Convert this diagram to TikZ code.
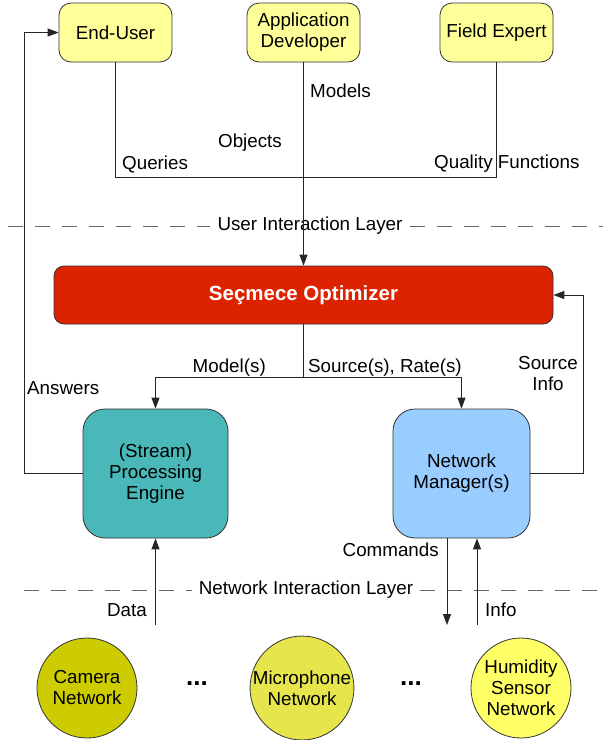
\documentclass[tikz,border=0pt]{standalone}
\usepackage{fontspec}
\setmainfont{Liberation Sans}
\usetikzlibrary{arrows.meta}
\definecolor{topfill}{HTML}{FFFF99}
\definecolor{optfill}{HTML}{DD2200}
\definecolor{engfill}{HTML}{4AB8B8}
\definecolor{nmfill}{HTML}{99CCFF}
\definecolor{camfill}{HTML}{CCCC00}
\definecolor{micfill}{HTML}{E6E64C}
\definecolor{humfill}{HTML}{FFFF66}
\definecolor{edge}{HTML}{333333}
\begin{document}
\begin{tikzpicture}[x=1pt,y=-1pt,
  txt/.style={font=\fontsize{18.8}{21}\selectfont, inner sep=0pt, text=black},
  topbox/.style={draw=edge, line width=0.8pt, fill=topfill, rounded corners=12pt, minimum width=113pt, minimum height=59pt, align=center, txt},
  bigbox/.style={draw=edge, line width=0.8pt, rounded corners=22pt, minimum height=129pt, align=center, txt},
  net/.style={draw=edge, line width=0.8pt, circle, minimum size=100pt, align=center, txt},
  conn/.style={draw=black!85, line width=0.9pt},
  arr/.style={conn, -{Triangle[length=11pt,width=8pt]}},
  layer/.style={draw=black!60, line width=0.9pt, dash pattern=on 15pt off 12pt},
  lbl/.style={txt}
]
\useasboundingbox (0,0) rectangle (603,740);
\fill[white] (0,0) rectangle (603,740);

% layer labels and dashed layers
\node[txt, inner xsep=7pt, inner ysep=2pt] (ult) at (310,226) {User Interaction Layer};
\node[txt, inner xsep=7pt, inner ysep=2pt] (nlt) at (306,590) {Network Interaction Layer};
\coordinate (ul0) at (8,226);
\coordinate (ul1) at (603,226);
\coordinate (nl0) at (24,590);
\coordinate (nl1) at (603,590);
\draw[layer] (ul0) -- (ult.west);
\draw[layer] (ult.east) -- (ul1);
\draw[layer] (nl0) -- (nlt.west);
\draw[layer] (nlt.east) -- (nl1);

% top boxes
\node[topbox] (eu) at (115.5,32.5) {End-User};
\node[topbox] (ad) at (303.5,32.5) {Application\\Developer};
\node[topbox] (fe) at (496.5,32.5) {Field Expert};

% optimizer
\node[draw=edge, line width=0.8pt, fill=optfill, rounded corners=10pt, minimum width=499pt, minimum height=58pt, inner sep=0pt,
      font=\fontsize{20.5}{23}\selectfont\bfseries, text=white] (opt) at (303.5,295) {Seçmece Optimizer};

% engines
\node[bigbox, fill=engfill, minimum width=145pt] (pe) at (155.5,473.5) {(Stream)\\Processing\\Engine};
\node[bigbox, fill=nmfill, minimum width=137pt] (nm) at (461.5,473.5) {Network\\Manager(s)};

% networks
\node[net, fill=camfill] (cam) at (87,688) {Camera\\Network};
\node[net, fill=micfill] (mic) at (302,688) {Microphone\\Network};
\node[net, fill=humfill] (hum) at (521,688) {Humidity\\Sensor\\Network};
\node[txt, font=\fontsize{26}{26}\selectfont\bfseries] (d1) at (197,684) {...};
\node[txt, font=\fontsize{26}{26}\selectfont\bfseries] (d2) at (411,684) {...};

% top connectors
\coordinate (qline) at (0,177);
\draw[conn] (eu.south) -- (eu.south |- qline) -- (fe.south |- qline) -- (fe.south);
\draw[arr] (ad.south) -- (opt.north);
\node[lbl, anchor=west] (lmod) at (310,91) {Models};
\node[lbl] (lobj) at (250,143) {Objects};
\node[lbl, anchor=west] (lq) at (122,164) {Queries};
\node[lbl, anchor=west] (lqf) at (434,164) {Quality Functions};

% answers
\coordinate (ansx) at (24,0);
\draw[arr] (pe.west) -- (pe.west -| ansx) -- (eu.west -| ansx) -- (eu.west);
\node[lbl, anchor=west] (lans) at (27,388) {Answers};

% source info
\coordinate (six) at (583,0);
\draw[arr] (nm.east) -- (nm.east -| six) -- (opt.east -| six) -- (opt.east);
\node[lbl, align=center] (lsi) at (548,374) {Source\\Info};

% optimizer outputs
\coordinate (split) at (303.5,377);
\draw[conn] (opt.south) -- (split);
\draw[arr] (split) -- (pe.north |- split) -- (pe.north);
\draw[arr] (split) -- (nm.north |- split) -- (nm.north);
\node[lbl, anchor=east] (lms) at (266,368) {Model(s)};
\node[lbl, anchor=west] (lsr) at (308,368) {Source(s), Rate(s)};

% network layer connectors
\coordinate (datab) at (155.5,625);
\coordinate (cmdb) at (447,625);
\coordinate (infob) at (477,625);
\draw[arr] (datab) -- (pe.south);
\draw[arr] (nm.south -| cmdb) -- (cmdb);
\draw[arr] (infob) -- (nm.south -| infob);
\node[lbl, anchor=east] (ldata) at (147,610) {Data};
\node[lbl, anchor=east] (lcmd) at (439,550) {Commands};
\node[lbl, anchor=west] (linfo) at (485,610) {Info};
\end{tikzpicture}
\end{document}
